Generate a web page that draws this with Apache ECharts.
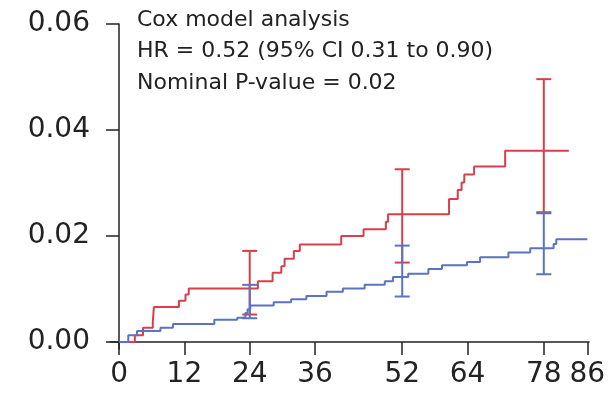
<!DOCTYPE html>
<html>
<head>
<meta charset="utf-8">
<script src="https://cdn.jsdelivr.net/npm/echarts@6/dist/echarts.min.js"></script>
<style>
  html, body { margin: 0; padding: 0; background: #fff; }
  #chart { width: 612px; height: 393px; }
</style>
</head>
<body>
<div id="chart"></div>
<script>
// cumulative incidence (time in weeks)
const redTimes = [0, 2.9, 4.4, 6.2, 6.4, 11.0, 12.2, 12.8, 25.5, 28.2, 29.8, 30.4, 32.1, 33.2, 40.8, 44.9, 49.0, 49.4, 60.6, 62.2, 62.9, 63.4, 65.2, 70.9, 82.6];
const redRisk  = [0, 0.0013, 0.0027, 0.0038, 0.0066, 0.0078, 0.0090, 0.0101, 0.0115, 0.0131, 0.0143, 0.0157, 0.0172, 0.0184, 0.0200, 0.0213, 0.0227, 0.0241, 0.0270, 0.0287, 0.0301, 0.0316, 0.0331, 0.0361, 0.0361];

const blueTimes = [0, 1.7, 3.3, 7.6, 9.9, 17.5, 21.7, 23.2, 23.6, 24.1, 28.4, 31.6, 34.4, 38.1, 41.1, 45.1, 48.8, 50.3, 53.1, 56.8, 59.3, 63.9, 66.3, 71.5, 75.5, 79.8, 80.3, 86.0];
const blueRisk  = [0, 0.0013, 0.0021, 0.0027, 0.0034, 0.0042, 0.0046, 0.0055, 0.0062, 0.0069, 0.0075, 0.0081, 0.0087, 0.0095, 0.0101, 0.0108, 0.0115, 0.0123, 0.0129, 0.0138, 0.0145, 0.0151, 0.0160, 0.0169, 0.0177, 0.0185, 0.0194, 0.0194];

// 95% CI bars
const ciTimes  = [24, 52, 78];
const redLow   = [0.0052, 0.0150, 0.0245];
const redHigh  = [0.0172, 0.0326, 0.0496];
const blueLow  = [0.0045, 0.0086, 0.0128];
const blueHigh = [0.0108, 0.0182, 0.0243];

const xTicks = [0, 12, 24, 36, 52, 64, 78, 86];
const yTicks = [0, 0.02, 0.04, 0.06];

const noteLines = [
  "Cox model analysis",
  "HR = 0.52 (95% CI 0.31 to 0.90)",
  "Nominal P-value = 0.02"
];

const RED = "#d7404b";
const BLUE = "#5b73c2";
const INK = "#222";
const FONT = "DejaVu Sans";

function pairs(xs, ys) {
  return xs.map((x, i) => [x, ys[i]]);
}

function ciSeries(lo, hi, color) {
  return {
    type: "custom",
    data: ciTimes.map((t, i) => [t, lo[i], hi[i]]),
    renderItem(params, api) {
      const top = api.coord([api.value(0), api.value(2)]);
      const bot = api.coord([api.value(0), api.value(1)]);
      const w = 7.5;
      const style = { stroke: color, lineWidth: 2 };
      return {
        type: "group",
        children: [
          { type: "line", shape: { x1: top[0], y1: top[1], x2: bot[0], y2: bot[1] }, style },
          { type: "line", shape: { x1: top[0] - w, y1: top[1], x2: top[0] + w, y2: top[1] }, style },
          { type: "line", shape: { x1: bot[0] - w, y1: bot[1], x2: bot[0] + w, y2: bot[1] }, style }
        ]
      };
    },
    silent: true,
    z: 3
  };
}

const chart = echarts.init(document.getElementById("chart"));

chart.setOption({
  backgroundColor: "#fff",
  animation: false,
  grid: { left: 110, right: 23, top: 24, bottom: 44 },
  xAxis: {
    type: "value",
    min: -1.66,
    max: 86.3,
    axisLine: { lineStyle: { color: INK, width: 1.5 } },
    axisTick: { customValues: xTicks, length: 13, lineStyle: { color: INK, width: 1.5 } },
    axisLabel: { customValues: xTicks, color: INK, fontFamily: FONT, fontSize: 28, margin: 12 },
    splitLine: { show: false }
  },
  yAxis: {
    type: "value",
    min: -0.0013,
    max: 0.06,
    axisLine: { show: true, lineStyle: { color: INK, width: 1.5 } },
    axisTick: { show: true, customValues: yTicks, length: 13, lineStyle: { color: INK, width: 1.5 } },
    axisLabel: {
      customValues: yTicks,
      color: INK, fontFamily: FONT, fontSize: 28, margin: 20,
      formatter: v => v.toFixed(2)
    },
    splitLine: { show: false }
  },
  graphic: noteLines.map((txt, i) => ({
    type: "text",
    left: 137,
    top: 9 + i * 31.5,
    style: { text: txt, fill: INK, font: "22px 'DejaVu Sans'" }
  })),
  series: [
    {
      type: "line",
      step: "end",
      data: pairs(redTimes, redRisk),
      showSymbol: false,
      lineStyle: { color: RED, width: 2 },
      z: 2
    },
    ciSeries(redLow, redHigh, RED),
    {
      type: "line",
      step: "end",
      data: pairs(blueTimes, blueRisk),
      showSymbol: false,
      lineStyle: { color: BLUE, width: 2 },
      z: 4
    },
    Object.assign(ciSeries(blueLow, blueHigh, BLUE), { z: 5 })
  ]
});
</script>
</body>
</html>
